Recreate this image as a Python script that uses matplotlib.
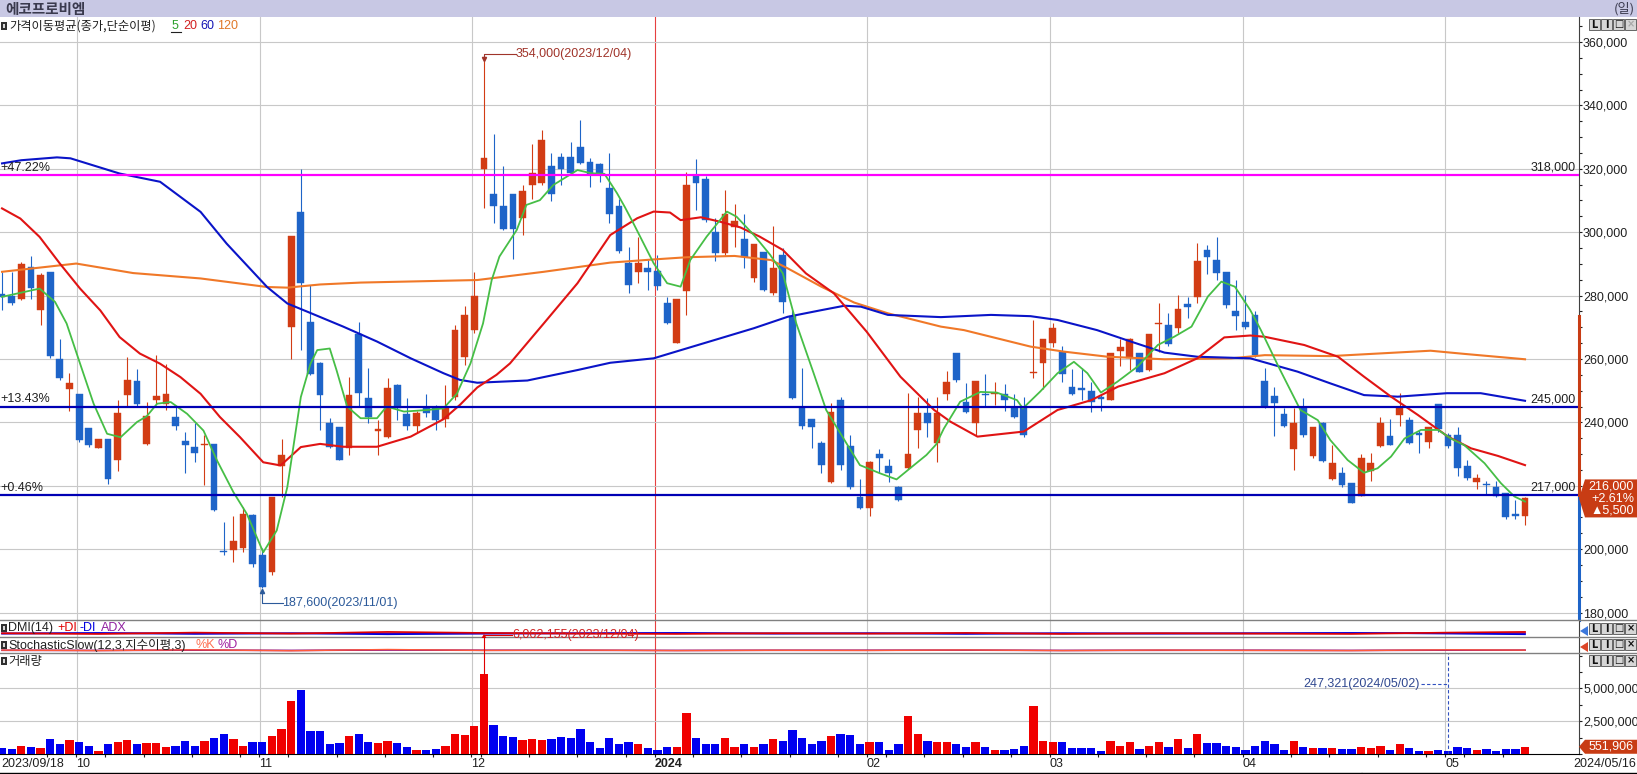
import numpy as np
import matplotlib
matplotlib.use("Agg")
import matplotlib.pyplot as plt
from matplotlib.lines import Line2D
from matplotlib.patches import Rectangle, Polygon
from matplotlib.ticker import MultipleLocator, FuncFormatter
from matplotlib.transforms import blended_transform_factory

# ---- daily candles 2023/09/18 .. 2024/05/16 ----
opens = [
    280500, 280000, 279000, 289000, 275600, 287400, 260000, 250600, 249000, 238300,
    232000, 234800, 228000, 248500, 252900, 233200, 246900, 245900, 241700, 234000,
    232200, 232800, 233200, 199500, 199700, 200400, 210800, 198300, 192700, 226100,
    270100, 306400, 271700, 258600, 239700, 238600, 231800, 267900, 247600, 237400,
    235500, 251800, 242600, 238900, 244400, 244900, 240900, 248100, 260700, 269100,
    319800, 312000, 308300, 312000, 304400, 314900, 315600, 320900, 323800, 323800,
    326800, 322200, 321400, 313800, 308300, 290200, 287500, 288600, 287700, 277500,
    265100, 281500, 317700, 316700, 300200, 293300, 301500, 297700, 285700, 293600,
    280700, 292800, 273500, 245000, 241000, 233600, 221300, 247000, 232500, 216500,
    212900, 230000, 226200, 219500, 225500, 237600, 243000, 233400, 249100, 262000,
    246500, 239700, 249000, 249000, 249100, 244900, 244400, 255500, 258600, 265100,
    262300, 251000, 250800, 250000, 248000, 247000, 262600, 260200, 261800, 256500,
    271000, 270700, 269700, 277200, 279700, 294400, 291200, 287500, 275100, 271800,
    274000, 253200, 248300, 242600, 231500, 244400, 229400, 239900, 222000, 223900,
    221000, 216800, 224800, 232500, 235700, 242300, 240700, 236600, 233900, 245800,
    236000, 236000, 226200, 221300, 220300, 219500, 217600, 211000, 210500]
highs = [
    287500, 287500, 290500, 292500, 287000, 287500, 266400, 255500, 249000, 238300,
    234800, 234800, 246900, 260600, 256900, 246400, 261100, 258500, 244800, 236900,
    239800, 235900, 233200, 208500, 210300, 213200, 211000, 200200, 216400, 234800,
    298700, 319800, 283300, 259000, 241300, 238600, 254400, 271800, 257000, 240700,
    253900, 252000, 247600, 243500, 249100, 245500, 251800, 270700, 276700, 287500,
    354000, 331000, 320900, 312000, 314900, 327800, 332200, 324900, 324900, 328600,
    335400, 323300, 321800, 325100, 310400, 295400, 298600, 291200, 292800, 279700,
    279000, 319100, 323000, 317700, 304400, 313300, 308900, 305700, 296300, 293600,
    301900, 294900, 275400, 257000, 241000, 234000, 246000, 247900, 236000, 222000,
    227800, 231500, 228300, 219800, 249400, 248100, 247600, 248100, 256300, 262000,
    252300, 253000, 255200, 252800, 252100, 249100, 248100, 272300, 266200, 271500,
    264100, 256700, 257000, 252800, 248600, 261800, 266200, 266500, 262000, 268000,
    277800, 274400, 280200, 279700, 296500, 295900, 298600, 287500, 284900, 280200,
    275000, 257000, 251300, 244400, 244400, 247600, 238600, 240000, 232900, 226000,
    221000, 230000, 230400, 241800, 241000, 249400, 241700, 237600, 238600, 245800,
    236500, 238600, 228100, 223700, 221600, 221600, 217600, 215500, 216500]
lows = [
    275500, 277000, 278500, 279000, 270600, 260400, 253500, 243500, 233800, 232200,
    232000, 220600, 224800, 244800, 244800, 232700, 245800, 243800, 237700, 224000,
    227400, 220300, 212000, 198000, 195800, 199000, 194300, 187600, 191700, 216400,
    260100, 262700, 255000, 237600, 231800, 228000, 229700, 245000, 239700, 229700,
    235000, 240700, 237600, 237100, 241800, 237600, 238600, 247000, 258100, 268100,
    307500, 303000, 300700, 291400, 299100, 310400, 314900, 309900, 314900, 318000,
    321500, 314400, 315900, 303000, 293500, 280700, 283900, 281800, 281800, 271000,
    264900, 273900, 307000, 303300, 291000, 292800, 295400, 288600, 284400, 281500,
    280200, 274400, 247400, 237800, 231800, 223900, 221000, 225000, 218900, 212600,
    210500, 223900, 221300, 215200, 225200, 231800, 235500, 227600, 247000, 252800,
    242800, 236000, 244900, 245500, 243700, 241300, 235300, 253900, 250400, 263900,
    252800, 248600, 247000, 243400, 243700, 247000, 257800, 256500, 255800, 256300,
    262300, 264100, 268300, 272800, 277800, 286800, 284900, 276000, 269100, 269500,
    260500, 244500, 235700, 238600, 225000, 235500, 228600, 227600, 221800, 219700,
    214500, 216800, 221600, 232100, 232700, 238800, 233200, 230200, 231800, 237100,
    232000, 223100, 221800, 218900, 217100, 216600, 209500, 209500, 207600]
closes = [
    279500, 277500, 290000, 282500, 286600, 261000, 254000, 252500, 234300, 232700,
    234800, 222200, 243000, 253500, 245700, 241900, 248300, 249000, 238700, 232900,
    230400, 233200, 212400, 199000, 202700, 211100, 195300, 188000, 216400, 229600,
    298700, 284000, 255200, 248600, 232300, 228100, 248600, 249400, 241800, 237800,
    250700, 244400, 238900, 243000, 242800, 240700, 244400, 269100, 273900, 279900,
    323300, 308300, 300900, 300900, 313000, 318800, 329100, 312000, 319800, 318600,
    321900, 318400, 318400, 305700, 294200, 283300, 290200, 287500, 283000, 271200,
    278800, 314900, 315400, 303800, 293300, 305700, 303600, 292300, 296300, 281800,
    288600, 278100, 247600, 238900, 238400, 226500, 243400, 226500, 219500, 212900,
    227600, 228600, 223900, 215500, 230000, 243000, 239700, 243000, 252800, 253400,
    243400, 253000, 248600, 249400, 247000, 241600, 236000, 255900, 266200, 269700,
    255300, 249100, 250200, 246500, 247500, 261800, 263900, 266200, 256000, 267900,
    271400, 264600, 275700, 276500, 290900, 292300, 287200, 277000, 273600, 270200,
    261200, 244700, 246000, 238900, 239900, 236000, 238400, 227900, 227300, 220200,
    214500, 228600, 227100, 239900, 232900, 244900, 233400, 236000, 238400, 237800,
    232500, 225500, 222300, 222300, 220100, 216800, 210000, 210500, 216000]
volumes = [
    470000, 360000, 630000, 550000, 470000, 1150000, 780000, 1090000, 940000, 630000,
    260000, 780000, 940000, 1090000, 780000, 860000, 860000, 550000, 630000, 1020000,
    630000, 1020000, 1250000, 1560000, 1170000, 630000, 940000, 940000, 1350000, 1880000,
    4060000, 4900000, 1720000, 1720000, 780000, 860000, 1410000, 1560000, 940000, 860000,
    1020000, 860000, 550000, 310000, 310000, 390000, 630000, 1560000, 1480000, 2110000,
    6062155, 2190000, 1410000, 1330000, 1090000, 1170000, 1090000, 1170000, 1330000, 1250000,
    1880000, 940000, 470000, 1250000, 780000, 940000, 780000, 470000, 310000, 550000,
    550000, 3130000, 1250000, 730000, 730000, 1200000, 550000, 730000, 550000, 730000,
    1120000, 1020000, 1820000, 1200000, 730000, 1020000, 1380000, 1510000, 1430000, 730000,
    940000, 890000, 340000, 730000, 2890000, 1510000, 1020000, 890000, 890000, 730000,
    550000, 940000, 550000, 340000, 340000, 360000, 630000, 3670000, 1020000, 940000,
    940000, 470000, 470000, 470000, 260000, 1020000, 630000, 940000, 360000, 630000,
    940000, 550000, 1120000, 470000, 1510000, 810000, 810000, 630000, 550000, 290000,
    630000, 1020000, 760000, 290000, 1020000, 550000, 470000, 470000, 470000, 390000,
    390000, 550000, 470000, 630000, 310000, 730000, 470000, 260000, 260000, 290000,
    247321, 550000, 470000, 290000, 360000, 260000, 390000, 390000, 551906]

first_date, last_date = "2023/09/18", "2024/05/16"
hi_date, lo_date = "2023/12/04", "2023/11/01"
vmax_date, vmin_date = "2023/12/04", "2024/05/02"

month_idx = [8, 27, 49, 68, 90, 109, 129, 150]
month_labels = ["10", "11", "12", "2024", "02", "03", "04", "05"]
week_idx = [5, 11, 15, 20, 25, 30, 35, 40, 45, 50, 55, 60, 65, 72, 77, 82, 87, 92, 96,
            100, 105, 114, 119, 124, 134, 138, 143, 148, 152, 156]

# moving averages, sampled along the drawn lines
ma5_idx = [0, 1.5, 3.9, 5.5, 6.7, 8.1, 9.5, 10.9, 12.3, 14, 15, 16.1, 17.5, 19.2, 20.9,
           22.3, 24, 25.4, 27.1, 28.5, 29.6, 31, 32, 32.7, 34, 34.7, 35.8, 37.2, 38.9,
           39.9, 41.7, 44.1, 45.8, 47.2, 48.6, 49.9, 50.8, 51.6, 53.4, 54.4, 55.8, 57.2,
           59.7, 61.1, 62.5, 63.8, 64.6, 65.5, 67.6, 69, 70.4, 71.4, 73.1, 75.2, 76.2,
           78, 79.7, 81, 82.4, 84.2, 85.5, 87.6, 89, 91.1, 92.8, 94.2, 95.9, 96.9, 97.7,
           99.4, 101.5, 103.2, 105.3, 105.9, 107.7, 109.5, 111.2, 112.6, 114, 115.7,
           117.8, 119.9, 121.6, 123.4, 125.1, 126.5, 127.9, 129.5, 130.6, 132.6, 134.7,
           136.5, 137.8, 139.6, 141.3, 142.7, 144.1, 145.5, 147.2, 149, 150.3, 151.7,
           153.8, 155.5, 156.9, 158]
ma5_val = [279600, 280600, 282200, 278000, 271200, 258500, 245900, 236400, 235300, 240100,
           241900, 245900, 246400, 242700, 237400, 228000, 218000, 211100, 199000, 205900,
           219600, 248000, 258500, 262800, 263300, 256500, 245000, 241300, 241300, 245000,
           243400, 243900, 244400, 249100, 258600, 271200, 284900, 292300, 300700, 308600,
           310100, 314900, 319600, 318600, 318400, 312300, 308000, 302800, 290200, 283900,
           282800, 291200, 298600, 306500, 304900, 299100, 292800, 287000, 271200, 255500,
           243900, 233400, 226500, 223900, 222000, 225500, 229700, 233000, 238000, 246500,
           249600, 249400, 247000, 244400, 249700, 255500, 259100, 255500, 249400, 252800,
           257600, 264400, 267000, 270200, 279700, 284400, 282800, 275400, 269100, 256500,
           243900, 240700, 234400, 228100, 224100, 225500, 229200, 234900, 237600, 237600,
           234900, 232800, 227100, 220800, 216600, 215000]
ma20_idx = [0, 1.9, 3.9, 6, 8.1, 10.2, 12.2, 14.3, 16.4, 18.5, 20.6, 22.6, 24.7, 27.1,
            28.9, 31, 33, 35.4, 38.9, 42.4, 45.8, 47.5, 49.3, 51.3, 52.7, 56.2, 59.7,
            63.1, 65.9, 67.6, 69.3, 70.4, 72.5, 74.5, 76.6, 78.6, 81, 83.4, 86.3, 89.7,
            93.2, 96.7, 98.4, 101.2, 106, 109.5, 113, 115.8, 120.6, 124, 126.8, 129.5,
            131, 135.1, 138.6, 141.3, 144.1, 146.9, 150, 152.4, 155.2, 158]
ma20_val = [307500, 304300, 298500, 290100, 282200, 275300, 266900, 261700, 258500, 254300,
            249000, 241700, 235300, 227400, 226400, 232200, 233200, 232300, 232300, 235500,
            241000, 245500, 251000, 255000, 258600, 271200, 283900, 299100, 304400, 306500,
            306200, 303800, 304700, 303300, 301500, 298600, 294400, 287000, 280700, 268600,
            254400, 243900, 240200, 235500, 237100, 243900, 247000, 251300, 255500, 260200,
            266800, 267400, 267000, 264400, 260700, 254400, 248100, 242300, 235500, 231800,
            229400, 226500]
ma60_idx = [0, 2, 5.7, 7.1, 12.2, 16.4, 20.6, 23.3, 27.5, 29.6, 32, 35.4, 38.9, 42.4,
            45.8, 47.5, 49.3, 54.5, 59.7, 63.1, 67.6, 71.1, 74.5, 78, 81.5, 85, 87.4,
            89.1, 91.9, 97.4, 102.6, 106.7, 109.5, 113.6, 117.1, 120.6, 124, 129.5,
            134.4, 137.8, 141.3, 144.8, 149.9, 153.4, 158]
ma60_val = [321700, 322700, 323600, 323300, 318500, 315900, 306400, 296400, 282700, 277500,
            274500, 270200, 265500, 260200, 255500, 253400, 252500, 253200, 256500, 258800,
            260200, 263400, 266500, 269700, 273300, 275400, 276800, 276500, 273900, 273200,
            273900, 273500, 272300, 269100, 265500, 262000, 260700, 260200, 256000, 252300,
            248600, 248100, 249200, 249200, 246800]
ma120_idx = [0, 7.7, 13.6, 20.6, 27.5, 29.6, 33, 37.2, 49.3, 56.2, 63.1, 67.6, 71.1, 76,
             79.8, 81.5, 85, 88.4, 91.9, 97.4, 99.8, 106.7, 110.2, 114.7, 120.6, 127.5,
             131, 137.8, 148.2, 151.7, 158]
ma120_val = [287500, 290100, 287100, 285400, 282700, 282500, 283500, 284100, 284900, 287500,
             290400, 291400, 292100, 292500, 291200, 288600, 282800, 277800, 274400, 270200,
             269100, 263900, 262300, 260700, 259900, 260200, 261200, 260900, 262600, 261600,
             259900]

levels = [318000, 245000, 217000]
level_colors = ["#ff00ff", "#0000b4", "#0000b4"]

# squeezed DMI / stochastic strips (rough readings)
panel_idx = [0, 10, 20, 30, 40, 50, 60, 70, 80, 90, 100, 110, 120, 130, 140, 150, 158]
dmi_plus = [22, 18, 26, 20, 30, 24, 20, 18, 22, 20, 24, 18, 22, 20, 18, 26, 30]
dmi_minus = [20, 24, 18, 22, 16, 20, 22, 24, 20, 22, 18, 22, 20, 22, 24, 20, 16]
dmi_adx = [21, 21, 22, 21, 22, 21, 21, 22, 21, 21, 22, 21, 21, 21, 22, 23, 23]
sto_k = [18, 15, 20, 14, 22, 16, 18, 15, 17, 16, 19, 15, 18, 16, 15, 20, 18]
sto_d = [17, 16, 18, 16, 19, 17, 17, 16, 17, 17, 18, 16, 17, 17, 16, 18, 18]

W, H = 1637, 774
NUM = "Liberation Sans"
KR = "Noto Sans CJK KR"
MIX = [NUM, KR]
FS = 9

RED, BLUE = "#d23c14", "#1e64c8"
VRED, VBLUE = "#f00000", "#0000f0"
GRID = "#c8c8c8"
TAG = "#c83c14"

fig = plt.figure(figsize=(W / 100, H / 100), dpi=100)
fig.patch.set_facecolor("white")


def rect(x0, y0, x1, y1):
    return [x0 / W, 1 - y1 / H, (x1 - x0) / W, (y1 - y0) / H]


def fpt(x, y):
    return x / W, 1 - y / H


def ftext(x, y, s, **kw):
    kw.setdefault("va", "center")
    kw.setdefault("fontsize", FS)
    kw.setdefault("family", NUM)
    kw.setdefault("color", "#202020")
    return fig.text(x / W, 1 - y / H, s, **kw)


def fline(x0, y0, x1, y1, **kw):
    fig.add_artist(Line2D([x0 / W, x1 / W], [1 - y0 / H, 1 - y1 / H],
                          transform=fig.transFigure, **kw))


def icon(y):
    fig.add_artist(Rectangle(fpt(1, y + 4), 6 / W, 8 / H, transform=fig.transFigure,
                             facecolor="#303030", edgecolor="none", zorder=5))
    fig.add_artist(Rectangle(fpt(3, y + 2), 2 / W, 4 / H, transform=fig.transFigure,
                             facecolor="#d8d8d8", edgecolor="none", zorder=6))


def buttons(y0, dim_last=False):
    for k, (x, g) in enumerate(zip([1589, 1601, 1613, 1625], ["L", "I", "□", "×"])):
        fig.add_artist(Rectangle(fpt(x, y0 + 11), 11 / W, 11 / H, transform=fig.transFigure,
                                 facecolor="#d6d6d6", edgecolor="#505050", lw=0.6, zorder=5))
        col = "#a8a8a8" if (dim_last and k == 3) else "#101010"
        ftext(x + 5.5, y0 + 5.5, g, ha="center", fontsize=7, color=col,
              family="DejaVu Sans", fontweight="bold", zorder=6)


# title bar
fig.add_artist(Rectangle((0, 1 - 17 / H), 1, 17 / H, transform=fig.transFigure,
                         facecolor="#c8c8e4", edgecolor="none", zorder=0))
ftext(5, 9, "에코프로비엠", family=KR, fontsize=10.5, fontweight="bold", color="#3a3a4e")
ftext(1635, 9, "(일)", family=KR, fontsize=9.5, color="#3a3a4e", ha="right")

ax = fig.add_axes(rect(0, 17, 1579, 620))
ax_dmi = fig.add_axes(rect(0, 620, 1579, 637), sharex=ax)
ax_sto = fig.add_axes(rect(0, 637, 1579, 653), sharex=ax)
ax_vol = fig.add_axes(rect(0, 653, 1579, 754), sharex=ax)

idx = np.arange(len(closes))
o, h, l, c = (np.array(a) for a in (opens, highs, lows, closes))
up = c >= o
ccol = np.where(up, RED, BLUE)

ax.set_xlim(-0.21, 163.6)
ax.set_ylim(177641, 367888)

# candles
ax.vlines(idx, l, h, colors=ccol, lw=0.8, zorder=3)
ax.bar(idx, np.maximum(np.abs(c - o), 350), bottom=np.minimum(o, c), width=0.7,
       color=ccol, edgecolor=ccol, lw=0.3, zorder=4)

# moving averages
ax.plot(ma120_idx, ma120_val, color="#f07828", lw=1.5, zorder=5)
ax.plot(ma60_idx, ma60_val, color="#0a14c8", lw=1.5, zorder=5)
ax.plot(ma20_idx, ma20_val, color="#e01414", lw=1.5, zorder=5)
ax.plot(ma5_idx, ma5_val, color="#46be46", lw=1.3, zorder=6)

# horizontal price levels
cur = closes[-1]
for lv, col in zip(levels, level_colors):
    ax.axhline(lv, color=col, lw=1.6, zorder=6)
    ax.annotate(f"{(lv / cur - 1) * 100:+.2f}%", xy=(0, lv), xycoords=("axes fraction", "data"),
                xytext=(0, 1), textcoords="offset points", ha="left", va="bottom",
                fontsize=FS, family=NUM, color="#202020", zorder=7)
    ax.annotate(f"{lv:,}", xy=(1, lv), xycoords=("axes fraction", "data"),
                xytext=(-2.5, 1), textcoords="offset points", ha="right", va="bottom",
                fontsize=FS, family=NUM, color="#202020", zorder=7)

# month grid + year line
year_i = month_idx[month_labels.index("2024")]
for a in (ax, ax_dmi, ax_sto, ax_vol):
    for m in month_idx:
        if m == year_i:
            a.axvline(m - 0.3, color="#e64040", lw=0.8, zorder=1)
        else:
            a.axvline(m - 0.25, color=GRID, lw=0.8, zorder=0)

# high / low markers
imax = int(np.argmax(highs))
hmax = highs[imax]
ya = hmax + 2200
ax.plot([imax, imax, imax + 3.3], [hmax + 300, ya, ya], color="#a0342a", lw=0.8, zorder=7)
ax.plot([imax], [hmax + 700], marker="v", ms=3, color="#a0342a", zorder=7)
ax.text(imax + 3.3, ya, f"{hmax:,}({hi_date})", fontsize=FS, family=NUM, color="#a0342a",
        va="center", ha="left", zorder=7)
imin = int(np.argmin(lows))
lmin = lows[imin]
yb = lmin - 4600
ax.plot([imin, imin, imin + 2.1], [lmin - 300, yb, yb], color="#2c5a9a", lw=0.8, zorder=7)
ax.plot([imin], [lmin - 900], marker="^", ms=3, color="#2c5a9a", zorder=7)
ax.text(imin + 2.1, yb, f"{lmin:,}({lo_date})", fontsize=FS, family=NUM, color="#2c5a9a",
        va="center", ha="left", zorder=7)

ax.yaxis.tick_right()
ax.set_yticks(np.arange(180000, 360001, 20000))
ax.yaxis.set_minor_locator(MultipleLocator(5000))
# the tick label hidden under the last-price tag is left blank
ax.yaxis.set_major_formatter(FuncFormatter(lambda v, p: "" if abs(v - cur) < 7000 else f"{int(v):,}"))
ax.tick_params(axis="y", which="major", direction="out", length=2.2, width=0.8, pad=0.7,
               labelsize=FS, labelfontfamily=NUM, colors="#202020")
ax.tick_params(axis="y", which="minor", direction="out", length=2.2, width=0.8, colors="#202020")
ax.tick_params(axis="x", which="both", bottom=False, labelbottom=False)
ax.grid(axis="y", color=GRID, lw=0.8, zorder=0)
for s in ("left", "top", "bottom"):
    ax.spines[s].set_visible(False)
ax.spines["right"].set_color("#404040")

# price-limit strip on the axis
prev = closes[-2]
bt = blended_transform_factory(ax.transAxes, ax.transData)
ax.plot([1, 1], [prev * 1.3, cur], transform=bt, color=TAG, lw=2.2, clip_on=False, zorder=8)
ax.plot([1, 1], [cur, ax.get_ylim()[0]], transform=bt, color=BLUE, lw=2.2, clip_on=False, zorder=8)

# DMI / stochastic strips
for a in (ax_dmi, ax_sto):
    a.set_ylim(0, 100)
    a.set_yticks([])
    a.tick_params(axis="x", which="both", bottom=False, labelbottom=False)
    for s in ("left", "top", "bottom"):
        a.spines[s].set_visible(False)
    a.spines["right"].set_color("#404040")
ax_dmi.plot(panel_idx, dmi_adx, color="#800080", lw=1.2, zorder=3)
ax_dmi.plot(panel_idx, dmi_minus, color="#0000e0", lw=1.2, zorder=3)
ax_dmi.plot(panel_idx, dmi_plus, color="#e00000", lw=1.2, zorder=3)
ax_sto.plot(panel_idx, sto_d, color="#800080", lw=1.2, zorder=3)
ax_sto.plot(panel_idx, sto_k, color="#ff5a3c", lw=1.0, zorder=3)

# volume
vcol = np.where(up, VRED, VBLUE)
ax_vol.bar(idx, volumes, width=0.86, color=vcol, zorder=3)
ax_vol.set_ylim(0, 7700000)
ax_vol.yaxis.tick_right()
ax_vol.set_yticks([2500000, 5000000])
ax_vol.yaxis.set_minor_locator(MultipleLocator(1250000))
ax_vol.yaxis.set_major_formatter(FuncFormatter(lambda v, p: f"{int(v):,}"))
ax_vol.tick_params(axis="y", which="major", direction="out", length=2.2, width=0.8, pad=0.7,
                   labelsize=FS, labelfontfamily=NUM, colors="#202020")
ax_vol.tick_params(axis="y", which="minor", direction="out", length=2.2, width=0.8, colors="#202020")
ax_vol.grid(axis="y", color=GRID, lw=0.8, zorder=0)
ax_vol.set_xticks([m - 0.3 for m in month_idx])
ax_vol.set_xticklabels(month_labels, ha="left")
ax_vol.set_xticks([w - 0.3 for w in week_idx], minor=True)
ax_vol.tick_params(axis="x", which="both", direction="out", length=2.5, width=0.8, pad=0.5,
                   labelsize=FS, labelfontfamily=NUM, colors="#202020")
for lbl in ax_vol.get_xticklabels():
    if lbl.get_text() == "2024":
        lbl.set_fontweight("bold")
for s in ("left", "top"):
    ax_vol.spines[s].set_visible(False)
ax_vol.spines["right"].set_color("#404040")
ax_vol.spines["bottom"].set_color("#000000")

vmin_i = int(np.argmin(volumes))
vy2 = 5340000
ax_vol.axvline(vmin_i, color="#3050c0", lw=0.8, ls=(0, (3, 2)), zorder=4)
ax_vol.plot([vmin_i - 2.8, vmin_i], [vy2, vy2], color="#3050c0", lw=0.8, ls=(0, (3, 2)), zorder=4)
ax_vol.text(vmin_i - 2.9, vy2, f"{volumes[vmin_i]:,}({vmin_date})", fontsize=FS, family=NUM,
            color="#304890", va="center", ha="right", zorder=7)

# max-volume marker, drawn on top of the strip panels
vmax_i = int(np.argmax(volumes))
xv_top = ax_vol.transData.transform((vmax_i, volumes[vmax_i]))
xv_lbl = ax_vol.transData.transform((vmax_i + 2.9, 0))[0]
px, py_bar = xv_top[0], H - xv_top[1]
py_lbl = 635
fline(px, py_bar, px, py_lbl, color="#e00000", lw=0.8, zorder=7)
fline(px, py_lbl, xv_lbl, py_lbl, color="#e00000", lw=0.8, zorder=7)
fig.add_artist(Polygon([fpt(px, py_lbl - 1), fpt(px - 2.5, py_lbl + 3), fpt(px + 2.5, py_lbl + 3)],
                       closed=True, transform=fig.transFigure, facecolor="#e00000",
                       edgecolor="none", zorder=7))
ftext(xv_lbl, py_lbl, f"{volumes[vmax_i]:,}({vmax_date})", color="#d02020", zorder=8)

ftext(1, 764, first_date)
ftext(1636, 764, last_date, ha="right")

# panel separators and frame
for yy in (620, 637, 653):
    fline(0, yy, W, yy, color="#808080", lw=1.0, zorder=4)
fline(0, 773, W, 773, color="#000000", lw=1.0, zorder=4)

# legends
icon(26)
ftext(9, 26, "가격이동평균(종가,단순이평)", family=KR, fontsize=8.8)
ftext(172, 26, "5", color="#2ca02c")
fline(171, 32, 181, 32, color="#202020", lw=0.8, zorder=5)
ftext(183, 26, "20", color="#d22020")
ftext(200, 26, "60", color="#1414b4")
ftext(217, 26, "120", color="#e07828")

icon(628)
ftext(8, 628, "DMI(14)")
ftext(57, 628, "+DI", color="#e00000")
ftext(80, 628, "-DI", color="#0000e0")
ftext(101, 628, "ADX", color="#9020a0")
icon(645)
ftext(8, 645, "StochasticSlow(12,3,지수이평,3)", family=MIX)
ftext(196, 645, "%K", color="#ff7050")
ftext(217, 645, "%D", color="#a020a0")
icon(661)
ftext(8, 661, "거래량", family=KR, fontsize=8.8)

buttons(19, dim_last=True)
buttons(623)
buttons(639)
buttons(655)
for yy, col in ((631, "#3c78dc"), (647, "#dc4628")):
    fig.add_artist(Polygon([fpt(1580, yy), fpt(1588, yy - 5), fpt(1588, yy + 5)], closed=True,
                           transform=fig.transFigure, facecolor=col, edgecolor="none", zorder=5))

# last price tag and last volume tag
yc = H - ax.transData.transform((0, cur))[1]
fig.add_artist(Polygon([fpt(1579, yc), fpt(1585, yc - 19), fpt(1637, yc - 19), fpt(1637, yc + 19),
                        fpt(1585, yc + 19)], closed=True, transform=fig.transFigure,
                       facecolor=TAG, edgecolor="none", zorder=9))
chg = cur - prev
ftext(1634, yc - 12, f"{cur:,}", ha="right", color="white", zorder=10)
ftext(1634, yc + 0.5, f"{chg / prev * 100:+.2f}%", ha="right", color="white", zorder=10)
ftext(1634, yc + 12.5, f"▲{chg:,}", ha="right", color="white", family=MIX, zorder=10)

yv = H - ax_vol.transData.transform((0, volumes[-1]))[1]
fig.add_artist(Polygon([fpt(1579, yv), fpt(1585, yv - 7), fpt(1637, yv - 7), fpt(1637, yv + 7),
                        fpt(1585, yv + 7)], closed=True, transform=fig.transFigure,
                       facecolor=TAG, edgecolor="none", zorder=9))
ftext(1634, yv, f"{volumes[-1]:,}", ha="right", color="white", zorder=10)

ftext(1253, 784, "Windows 정품 인증", family=KR, fontsize=15, color="#d4d4d4")

fig.savefig("out.png", dpi=100)
